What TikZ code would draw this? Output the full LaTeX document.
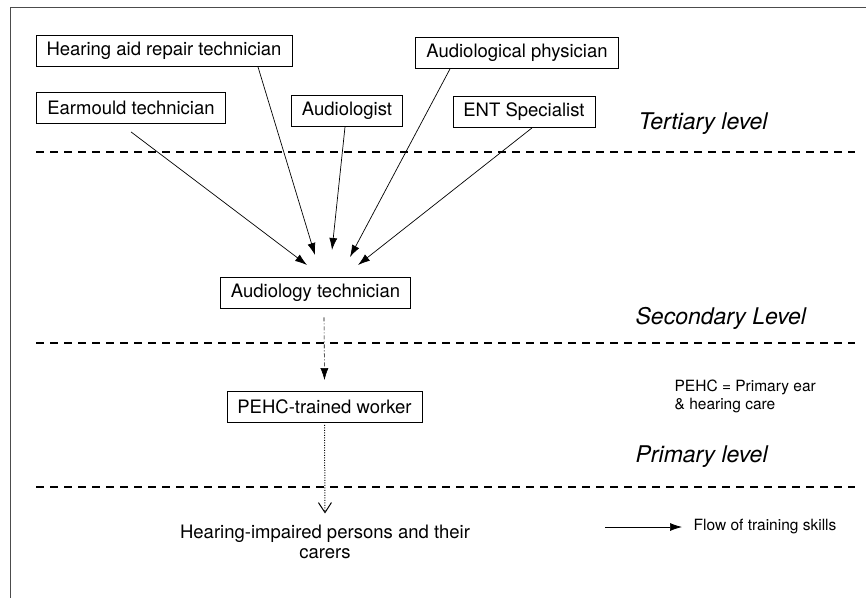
\documentclass[tikz,border=0pt]{standalone}
\usepackage{fontspec}
\setmainfont{TeX Gyre Heros}
\usetikzlibrary{arrows.meta,positioning}

\begin{document}
\begin{tikzpicture}[x=1pt, y=-1pt, >={Latex[length=12pt,width=8pt]}, semithick]
\tikzstyle{job}=[draw=black, line width=0.8pt, inner xsep=10.5pt, minimum height=31pt, font=\fontsize{18.5}{22}\selectfont]
\tikzstyle{level}=[anchor=west, font=\fontsize{23}{27}\selectfont\itshape]
\tikzstyle{note}=[anchor=west, align=left, font=\fontsize{15.5}{17.5}\selectfont]
\tikzstyle{divider}=[line width=1.6pt, dash pattern=on 8pt off 6pt]
\tikzstyle{flow}=[->, line width=0.7pt]
\useasboundingbox (0,0) rectangle (866,598);
% page frame
\draw[black!70, line width=1pt] (866,7) -| (10,598);
% tertiary level
\node[job] (hearing)     at (164,51)  {Hearing aid repair technician};
\node[job] (audphys)     at (517,53)  {Audiological physician};
\node[job] (earmould)    at (131,108) {Earmould technician};
\node[job] (audiologist) at (347,111) {Audiologist};
\node[job] (ent)         at (524,112) {ENT Specialist};
\node[level] (tertiary)  at (635,124) {Tertiary level};
\draw[divider] (36,152) -- (855,152);
% secondary level
\node[job] (audtech) at (315.5,292.5) {Audiology technician};
\node[level] (secondary) at (632,318) {Secondary Level};
\draw[divider] (36,343) -- (855,343);
% primary level
\node[job] (pehc) at (324.5,407) {PEHC-trained worker};
\node[note] (abbrev) at (671,396.5) {PEHC = Primary ear\\\& hearing care};
\node[level] (primary) at (632,457) {Primary level};
\draw[divider] (36,487) -- (855,487);
\node[align=center, font=\fontsize{18.5}{20}\selectfont] (persons) at (325,542) {Hearing-impaired persons and their\\carers};
% legend
\coordinate (legstart) at (605,527);
\node[note] (legend) at (690,527) {Flow of training skills};
% arrow tips above the technician
\coordinate (t1) at (307,265);
\coordinate (t2) at (315,255);
\coordinate (t3) at (332,250);
\coordinate (t4) at (350,257);
\coordinate (t5) at (358,265);
\path[flow]
([yshift=-8pt]earmould.south)    edge (t1)
([xshift=94pt]hearing.south)     edge (t2)
([xshift=-2pt]audiologist.south) edge (t3)
([xshift=-67pt]audphys.south)    edge (t4)
([xshift=8pt]ent.south)          edge (t5);
\draw[->, line width=0.6pt, dash pattern=on 4pt off 2pt on 1pt off 2pt]
  ([xshift=8.5pt,yshift=-9pt]audtech.south) -- ([yshift=11pt]pehc.north);
\draw[-{Straight Barb[length=10pt,width=13pt]}, line width=1pt, dash pattern=on 1pt off 1.5pt]
  ([yshift=-2pt]pehc.south) -- ([yshift=8pt]persons.north);
\draw[flow] (legstart) -- ([xshift=-8pt]legend.west);
\end{tikzpicture}
\end{document}
